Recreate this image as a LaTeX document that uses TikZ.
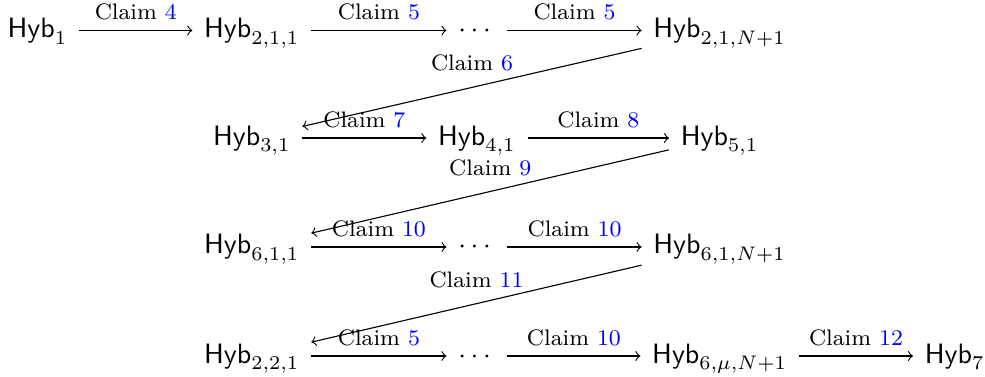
\documentclass[tikz,border=0pt]{standalone}
\usepackage{amsmath}
\usepackage{tikz}

\tikzset{
  hyb/.style={anchor=base, inner sep=4pt, text height=7pt, text depth=2pt},
  claim/.style={font=\footnotesize, inner sep=3.5pt},
}
\newcommand{\Hyb}[1]{$\mathsf{Hyb}_{#1}$}
\newcommand{\clm}[1]{Claim \textcolor{blue}{#1}}

\begin{document}
\begin{tikzpicture}[>=to]
  \useasboundingbox (0,0) rectangle (12.36,-4.73);

  % row 1
  \node[hyb] (h1)   at (0.47,-0.47)  {\Hyb{1}};
  \node[hyb] (h211) at (3.16,-0.47)  {\Hyb{2,1,1}};
  \node[hyb] (d1)   at (5.985,-0.47) {$\cdots$};
  \node[hyb] (h21N) at (9.03,-0.47)  {\Hyb{2,1,N+1}};

  % row 2
  \node[hyb] (h31)  at (3.16,-1.82)  {\Hyb{3,1}};
  \node[hyb] (h41)  at (5.985,-1.82) {\Hyb{4,1}};
  \node[hyb] (h51)  at (9.03,-1.82)  {\Hyb{5,1}};

  % row 3
  \node[hyb] (h611) at (3.16,-3.187)  {\Hyb{6,1,1}};
  \node[hyb] (d3)   at (5.985,-3.187) {$\cdots$};
  \node[hyb] (h61N) at (9.03,-3.187)  {\Hyb{6,1,N+1}};

  % row 4
  \node[hyb] (h221) at (3.16,-4.555)  {\Hyb{2,2,1}};
  \node[hyb] (d4)   at (5.985,-4.555) {$\cdots$};
  \node[hyb] (h6mN) at (9.03,-4.555)  {\Hyb{6,\mu,N+1}};
  \node[hyb] (h7)   at (11.98,-4.555) {\Hyb{7}};

  % steps along a row
  \foreach \a/\b/\n in {h1/h211/4, h211/d1/5, d1/h21N/5, h31/h41/7, h41/h51/8,
                        h611/d3/10, d3/h61N/10, h221/d4/5, d4/h6mN/10, h6mN/h7/12} {
    \draw[->] (\a) -- (\b) node[claim, midway, above] {\clm{\n}};
  }

  % jumps back to the next row
  \foreach \a/\b/\n in {h21N/h31/6, h51/h611/9, h61N/h221/11} {
    \draw[->] (\a) -- (\b) node[claim, midway, above=2pt] {\clm{\n}};
  }
\end{tikzpicture}
\end{document}
